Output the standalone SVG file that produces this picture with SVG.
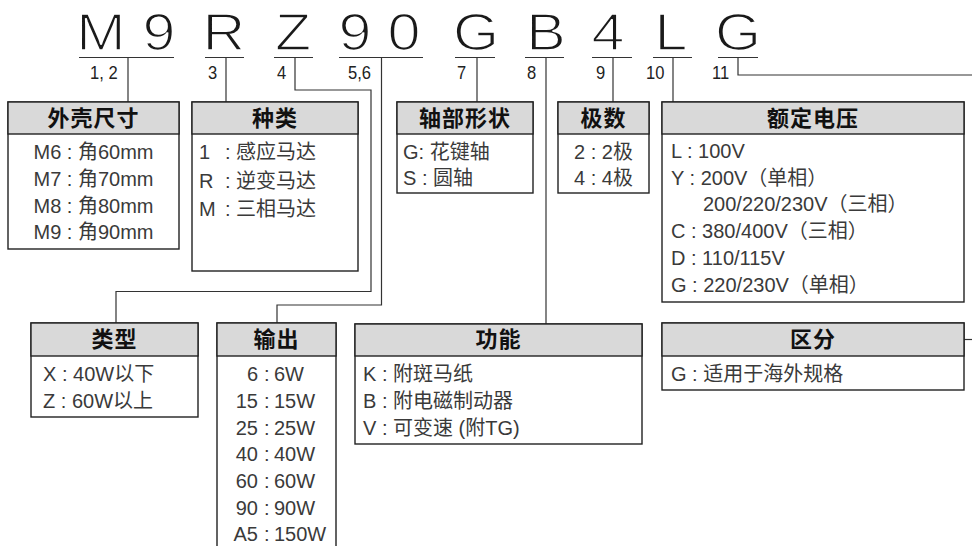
<svg xmlns="http://www.w3.org/2000/svg" width="972" height="546" viewBox="0 0 972 546">
<style>
.big{font-family:"Liberation Sans","Noto Sans CJK SC",sans-serif;font-size:52px;fill:#1a1a1a;stroke:#fff;stroke-width:1.6;text-anchor:middle}
.idx{font-family:"Liberation Sans","Noto Sans CJK SC",sans-serif;font-size:18px;fill:#222}
.ul{stroke:#333;stroke-width:1.2;fill:none}
.box{fill:#fff;stroke:#222;stroke-width:1.4}
.hd{fill:#d9d9d9;stroke:#222;stroke-width:1.4}
.ttl{font-family:"Liberation Sans","Noto Sans CJK SC",sans-serif;font-size:22px;font-weight:bold;fill:#111;text-anchor:middle;letter-spacing:1px}
.bd{font-family:"Liberation Sans","Noto Sans CJK SC",sans-serif;font-size:20px;fill:#3a3a3a}
.c{text-anchor:middle}
.e{text-anchor:end}
.con{stroke:#333;stroke-width:1.2;fill:none}
</style>

<g id="code">
<text class="big" transform="translate(101,50) scale(1.14,1)">M</text>
<text class="big" transform="translate(159,50) scale(1.14,1)">9</text>
<text class="big" transform="translate(224,50) scale(1.14,1)">R</text>
<text class="big" transform="translate(293,50) scale(1.14,1)">Z</text>
<text class="big" transform="translate(355,50) scale(1.14,1)">9</text>
<text class="big" transform="translate(404,50) scale(1.14,1)">0</text>
<text class="big" transform="translate(476,50) scale(1.14,1)">G</text>
<text class="big" transform="translate(546,50) scale(1.14,1)">B</text>
<text class="big" transform="translate(608,50) scale(1.14,1)">4</text>
<text class="big" transform="translate(671,50) scale(1.14,1)">L</text>
<text class="big" transform="translate(738,50) scale(1.14,1)">G</text>
<path class="ul" d="M79 57.5H174M205 57.5H244M274 57.5H313M339 57.5H423M455 57.5H495M525 57.5H564M592 57.5H632M653 57.5H692M718 57.5H758"/>
<text class="idx" transform="translate(90,79) scale(0.92,1)">1, 2</text>
<text class="idx" transform="translate(208,79) scale(0.92,1)">3</text>
<text class="idx" transform="translate(277,79) scale(0.92,1)">4</text>
<text class="idx" transform="translate(348,79) scale(0.92,1)">5,6</text>
<text class="idx" transform="translate(457,79) scale(0.92,1)">7</text>
<text class="idx" transform="translate(527,79) scale(0.92,1)">8</text>
<text class="idx" transform="translate(596,79) scale(0.92,1)">9</text>
<text class="idx" transform="translate(646,79) scale(0.92,1)">10</text>
<text class="idx" transform="translate(712,79) scale(0.92,1)">11</text>
</g>

<g id="connectors">
<path class="con" d="M128 57.5V102"/>
<path class="con" d="M226 57.5V102"/>
<path class="con" d="M295 57.5V90H371V291.5H116V323"/>
<path class="con" d="M381.5 57.5V305H277V323"/>
<path class="con" d="M477 57.5V102"/>
<path class="con" d="M546 57.5V324"/>
<path class="con" d="M613 57.5V102"/>
<path class="con" d="M673 57.5V102"/>
<path class="con" d="M738 57.5V75H972"/>
<path class="con" d="M964 339.5H972"/>
</g>

<g id="size">
<rect class="box" x="8" y="102" width="171" height="147"/>
<rect class="hd" x="8" y="102" width="171" height="32"/>
<text class="ttl" x="93.5" y="126">外壳尺寸</text>
<text class="bd c" x="93.5" y="159">M6 : 角60mm</text>
<text class="bd c" x="93.5" y="186">M7 : 角70mm</text>
<text class="bd c" x="93.5" y="213">M8 : 角80mm</text>
<text class="bd c" x="93.5" y="239">M9 : 角90mm</text>
</g>

<g id="kind">
<rect class="box" x="192" y="102" width="166" height="169"/>
<rect class="hd" x="192" y="102" width="166" height="32"/>
<text class="ttl" x="275" y="126">种类</text>
<text class="bd" x="199" y="159">1<tspan x="225">: 感应马达</tspan></text>
<text class="bd" x="199" y="188">R<tspan x="225">: 逆变马达</tspan></text>
<text class="bd" x="199" y="216">M<tspan x="225">: 三相马达</tspan></text>
</g>

<g id="shaft">
<rect class="box" x="397" y="102" width="136" height="91"/>
<rect class="hd" x="397" y="102" width="136" height="32"/>
<text class="ttl" x="465" y="126">轴部形状</text>
<text class="bd" x="403" y="159">G: 花键轴</text>
<text class="bd" x="403" y="185">S : 圆轴</text>
</g>

<g id="poles">
<rect class="box" x="558" y="102" width="91" height="91"/>
<rect class="hd" x="558" y="102" width="91" height="32"/>
<text class="ttl" x="603.5" y="126">极数</text>
<text class="bd c" x="603.5" y="159">2 : 2极</text>
<text class="bd c" x="603.5" y="185">4 : 4极</text>
</g>

<g id="voltage">
<rect class="box" x="662" y="102" width="302" height="200"/>
<rect class="hd" x="662" y="102" width="302" height="32"/>
<text class="ttl" x="813" y="126">额定电压</text>
<text class="bd" x="671" y="158">L  : 100V</text>
<text class="bd" x="671" y="185">Y : 200V（单相）</text>
<text class="bd" x="703" y="211">200/220/230V（三相）</text>
<text class="bd" x="671" y="238">C : 380/400V（三相）</text>
<text class="bd" x="671" y="265">D : 110/115V</text>
<text class="bd" x="671" y="292">G : 220/230V（单相）</text>
</g>

<g id="type">
<rect class="box" x="31" y="323" width="167" height="94"/>
<rect class="hd" x="31" y="323" width="167" height="33"/>
<text class="ttl" x="114.5" y="347">类型</text>
<text class="bd" x="43" y="381">X : 40W以下</text>
<text class="bd" x="43" y="408">Z : 60W以上</text>
</g>

<g id="output">
<rect class="box" x="217" y="323" width="119" height="240"/>
<rect class="hd" x="217" y="323" width="119" height="33"/>
<text class="ttl" x="276.5" y="347">输出</text>
<text class="bd" y="381"><tspan class="e" x="258">6</tspan><tspan x="264">:</tspan><tspan x="274">6W</tspan></text>
<text class="bd" y="408"><tspan class="e" x="258">15</tspan><tspan x="264">:</tspan><tspan x="274">15W</tspan></text>
<text class="bd" y="434.5"><tspan class="e" x="258">25</tspan><tspan x="264">:</tspan><tspan x="274">25W</tspan></text>
<text class="bd" y="461"><tspan class="e" x="258">40</tspan><tspan x="264">:</tspan><tspan x="274">40W</tspan></text>
<text class="bd" y="488"><tspan class="e" x="258">60</tspan><tspan x="264">:</tspan><tspan x="274">60W</tspan></text>
<text class="bd" y="515"><tspan class="e" x="258">90</tspan><tspan x="264">:</tspan><tspan x="274">90W</tspan></text>
<text class="bd" y="541"><tspan class="e" x="258">A5</tspan><tspan x="264">:</tspan><tspan x="274">150W</tspan></text>
</g>

<g id="function">
<rect class="box" x="355" y="324" width="287" height="120"/>
<rect class="hd" x="355" y="324" width="287" height="32"/>
<text class="ttl" x="498.5" y="347">功能</text>
<text class="bd" x="363" y="381">K : 附斑马纸</text>
<text class="bd" x="363" y="408">B : 附电磁制动器</text>
<text class="bd" x="363" y="435">V : 可变速 (附TG)</text>
</g>

<g id="division">
<rect class="box" x="662" y="323" width="302" height="67"/>
<rect class="hd" x="662" y="323" width="302" height="33"/>
<text class="ttl" x="813" y="347">区分</text>
<text class="bd" x="671" y="381">G : 适用于海外规格</text>
</g>
</svg>
